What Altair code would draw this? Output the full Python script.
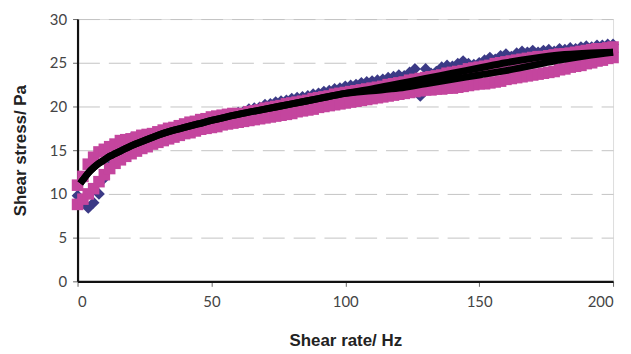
import altair as alt
import pandas as pd

# shear rate (Hz) sampling positions of the measured points
rate = list(range(0, 201, 2))

# blue diamonds: measured shear stress (Pa)
stress_diamond = [
    9.8, 9.0, 8.4, 9.0, 10.0, 11.8, 13.2, 14.3, 15.2, 16.2,
    16.4, 16.2, 16.4, 16.6, 16.8, 16.9, 17.0, 17.2, 17.3, 17.5,
    17.6, 17.8, 17.9, 18.0, 18.2, 18.3, 18.5, 18.6, 18.8, 19.0,
    19.3, 19.4, 19.7, 19.8, 19.9, 20.2, 20.3, 20.5, 20.6, 20.7,
    20.9, 21.0, 21.1, 21.2, 21.4, 21.5, 21.7, 21.8, 22.0, 22.1,
    22.3, 22.4, 22.5, 22.7, 22.8, 22.9, 23.0, 23.1, 23.3, 23.4,
    23.6, 23.5, 23.9, 24.3, 21.2, 24.3, 23.8, 24.0, 24.5, 24.7,
    24.6, 24.9, 25.2, 24.9, 24.8, 25.0, 25.3, 25.6, 25.4, 25.8,
    26.0, 25.7, 26.1, 26.3, 26.2, 26.4, 26.2, 26.4, 26.5, 26.3,
    26.6, 26.5, 26.7, 26.6, 26.8, 26.9, 26.8, 27.0, 27.0, 27.1,
    27.1,
]

# magenta squares, upper branch (Pa)
stress_square_up = [
    11.0, 12.0, 13.4, 14.2, 14.8, 15.1, 15.4, 15.7, 16.1, 16.2,
    16.3, 16.5, 16.7, 16.8, 16.9, 17.1, 17.3, 17.5, 17.6, 17.8,
    18.0, 18.2, 18.3, 18.5, 18.6, 18.8, 18.9, 19.0, 19.1, 19.2,
    19.1, 19.2, 19.4, 19.5, 19.6, 19.8, 19.9, 20.0, 20.1, 20.3,
    20.4, 20.5, 20.6, 20.7, 20.9, 21.0, 21.1, 21.2, 21.4, 21.5,
    21.6, 21.7, 21.8, 21.9, 22.0, 22.1, 22.2, 22.3, 22.5, 22.6,
    22.7, 22.8, 23.0, 23.1, 23.2, 23.3, 23.4, 23.5, 23.6, 23.8,
    23.9, 24.0, 24.1, 24.3, 24.4, 24.5, 24.6, 24.7, 24.9, 25.0,
    25.1, 25.2, 25.3, 25.4, 25.5, 25.6, 25.7, 25.7, 25.8, 25.9,
    26.0, 26.0, 26.1, 26.2, 26.3, 26.4, 26.5, 26.6, 26.6, 26.7,
    26.8,
]

# magenta squares, lower branch (Pa)
stress_square_down = [
    8.8, 9.4, 10.0, 10.6, 11.4, 12.2, 12.9, 13.5, 13.9, 14.3,
    14.6, 14.9, 15.2, 15.4, 15.7, 15.9, 16.1, 16.3, 16.5, 16.7,
    16.9, 17.0, 17.2, 17.4, 17.5, 17.6, 17.7, 17.9, 18.0, 18.1,
    18.2, 18.3, 18.4, 18.5, 18.6, 18.7, 18.8, 18.9, 19.0, 19.1,
    19.2, 19.4, 19.5, 19.6, 19.7, 19.9, 20.0, 20.1, 20.2, 20.3,
    20.4, 20.5, 20.6, 20.7, 20.8, 20.9, 21.0, 21.1, 21.2, 21.3,
    21.4, 21.5, 21.6, 21.7, 21.8, 21.9, 21.9, 22.0, 22.0, 22.1,
    22.1, 22.2, 22.3, 22.4, 22.5, 22.6, 22.6, 22.7, 22.8, 22.9,
    23.1, 23.2, 23.3, 23.4, 23.5, 23.6, 23.7, 23.8, 23.9, 24.0,
    24.2, 24.3, 24.5, 24.6, 24.7, 24.9, 25.0, 25.2, 25.3, 25.5,
    25.6,
]

# fitted curves
fit_rate = [1, 2, 4, 6, 8, 10, 12, 14, 16, 18, 20, 25, 30, 35, 40, 45, 50,
            60, 70, 80, 90, 100, 110, 120, 130, 140, 150, 160, 170, 180, 190, 200]
fit_a = [11.2, 11.6, 12.4, 13.0, 13.5, 13.9, 14.3, 14.6, 14.9, 15.2, 15.5, 16.1,
         16.7, 17.2, 17.6, 18.0, 18.4, 19.1, 19.7, 20.3, 20.9, 21.5, 22.0, 22.6,
         23.2, 23.8, 24.4, 25.0, 25.5, 25.9, 26.1, 26.2]
fit_b = [11.2, 11.6, 12.4, 13.0, 13.5, 13.9, 14.3, 14.6, 14.9, 15.2, 15.5, 16.1,
         16.7, 17.2, 17.6, 18.0, 18.4, 19.1, 19.7, 20.3, 20.9, 21.5, 21.8, 22.1,
         22.6, 23.1, 23.6, 24.1, 24.7, 25.3, 25.8, 26.2]

x_ticks = [0, 50, 100, 150, 200]
y_ticks = [0, 5, 10, 15, 20, 25, 30]

df_d = pd.DataFrame({"rate": rate, "stress": stress_diamond})
df_su = pd.DataFrame({"rate": rate, "stress": stress_square_up})
df_sd = pd.DataFrame({"rate": rate, "stress": stress_square_down})
df_sq = pd.concat([df_su, df_sd], ignore_index=True)
df_fa = pd.DataFrame({"rate": fit_rate, "stress": fit_a})
df_fb = pd.DataFrame({"rate": fit_rate, "stress": fit_b})

xs = alt.Scale(domain=[0, 200], nice=False, zero=False)
ys = alt.Scale(domain=[0, 30], nice=False)

xax = alt.Axis(values=x_ticks, title="Shear rate/ Hz", grid=False, domainColor="#111",
               domainWidth=2.2, tickColor="#666", tickSize=5, labelPadding=8,
               labelFontSize=15, labelColor="#444", labelFont="Lato",
               titleFont="Liberation Sans", titleFontSize=17, titleFontWeight="bold",
               titleColor="#222", titlePadding=24)
yax = alt.Axis(values=y_ticks, title="Shear stress/ Pa", grid=True, gridColor="#c4c4c4",
               gridDash=[22, 9], gridWidth=1, domainColor="#111", domainWidth=2.2,
               tickColor="#666", tickSize=5, labelPadding=6,
               labelFontSize=15, labelColor="#444", labelFont="Lato",
               titleFont="Liberation Sans", titleFontSize=17, titleFontWeight="bold",
               titleColor="#222", titlePadding=20)

base_x = alt.X("rate:Q", scale=xs, axis=xax)
base_y = alt.Y("stress:Q", scale=ys, axis=yax)

diamonds = alt.Chart(df_d).mark_point(shape="diamond", filled=True, size=140,
                                      color="#3b3a86", opacity=1).encode(x=base_x, y=base_y)
squares = alt.Chart(df_sq).mark_square(size=135, color="#c4459e", opacity=1).encode(
    x=alt.X("rate:Q", scale=xs), y=alt.Y("stress:Q", scale=ys))
line_a = alt.Chart(df_fa).mark_line(color="#000", strokeWidth=7, interpolate="monotone").encode(
    x=alt.X("rate:Q", scale=xs), y=alt.Y("stress:Q", scale=ys))
line_b = alt.Chart(df_fb).mark_line(color="#000", strokeWidth=7, interpolate="monotone").encode(
    x=alt.X("rate:Q", scale=xs), y=alt.Y("stress:Q", scale=ys))

chart = alt.layer(diamonds, squares, line_b, line_a).properties(
    width=539, height=264,
    autosize=alt.AutoSizeParams(type="none"),
    padding={"left": 70, "top": 10, "right": 10, "bottom": 70},
).configure_view(stroke="#8a8a8a", strokeWidth=1.5).configure(background="white")

chart.save("out.html", embed_options={"renderer": "svg", "actions": False})
